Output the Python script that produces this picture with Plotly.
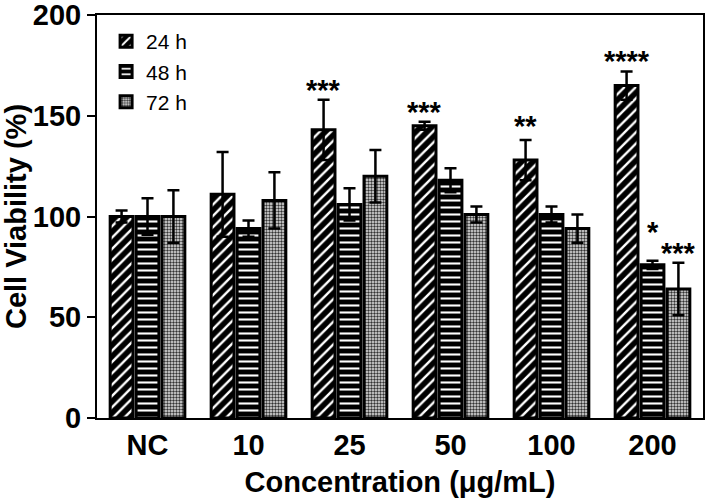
import plotly.graph_objects as go

categories = ["NC", "10", "25", "50", "100", "200"]
series_names = ["24 h", "48 h", "72 h"]
v24 = [100, 111, 143, 145, 128, 165]
e24 = [3, 21, 15, 2, 10, 7]
v48 = [100, 94, 106, 118, 101, 76]
e48 = [9, 4, 8, 6, 4, 2]
v72 = [100, 108, 120, 101, 94, 64]
e72 = [13, 14, 13, 4, 7, 13]

# significance labels: (category index, series index, label, pixel gap above error bar)
sig = [(2, 0, "***", 13), (3, 0, "***", 13), (4, 0, "**", 17), (5, 0, "****", 13),
       (5, 1, "*", 32), (5, 2, "***", 13)]

FONT = "Liberation Sans, Arial, sans-serif"
BIG = 29
xs = list(range(len(categories)))

patterns = [
    dict(shape="/", bgcolor="black", fgcolor="white", size=8, solidity=0.3, fillmode="replace"),
    dict(shape="-", bgcolor="black", fgcolor="white", size=7, solidity=0.3, fillmode="replace"),
    dict(shape=".", bgcolor="#e6e6e6", fgcolor="#333333", size=3, solidity=0.5, fillmode="replace"),
]

fig = go.Figure()
for name, vals, errs, pat in zip(series_names, [v24, v48, v72], [e24, e48, e72], patterns):
    fig.add_trace(go.Bar(
        x=xs, y=vals, name=name,
        marker=dict(color="black", pattern=pat, line=dict(color="black", width=3)),
        error_y=dict(type="data", array=errs, visible=True, color="black", thickness=2.5, width=6),
    ))

allv = [v24, v48, v72]
alle = [e24, e48, e72]
slot = 0.77 / 3
for ci, si, lab, gap in sig:
    fig.add_annotation(
        x=ci + (si - 1) * slot, y=allv[si][ci] + alle[si][ci],
        text=lab, showarrow=False, yanchor="middle", yshift=gap - 3,
        font=dict(family=FONT, size=BIG, color="black", weight="bold"),
    )

bold = dict(family=FONT, size=BIG, color="black", weight="bold")
fig.update_layout(
    width=709, height=501,
    margin=dict(l=97, r=6, t=15, b=83, autoexpand=False),
    paper_bgcolor="white", plot_bgcolor="white",
    barmode="group", bargap=0.23, bargroupgap=0.12,
    showlegend=True,
    legend=dict(x=0.015, y=0.985, xanchor="left", yanchor="top",
                font=dict(family=FONT, size=21, color="black"),
                bgcolor="rgba(0,0,0,0)", tracegroupgap=0),
    font=dict(family=FONT, color="black"),
)
fig.update_xaxes(
    range=[-0.5, 5.5], tickvals=xs, ticktext=categories,
    showline=True, linecolor="black", linewidth=2, mirror=True,
    ticks="", showgrid=False, zeroline=False, automargin=False,
    tickfont=bold,
    title=dict(text="Concentration (μg/mL)", font=bold, standoff=12),
)
fig.update_yaxes(
    range=[0, 200], tickvals=[0, 50, 100, 150, 200],
    showline=True, linecolor="black", linewidth=2, mirror=True,
    ticks="outside", ticklen=8, tickwidth=2, tickcolor="black",
    showgrid=False, zeroline=False, automargin=False,
    tickfont=bold, ticklabeloverflow="allow",
    title=dict(text="Cell Viability (%)", font=bold, standoff=6),
)

fig.write_html("out.html", config={"displayModeBar": False},
               post_script="document.body.style.margin='0';")
